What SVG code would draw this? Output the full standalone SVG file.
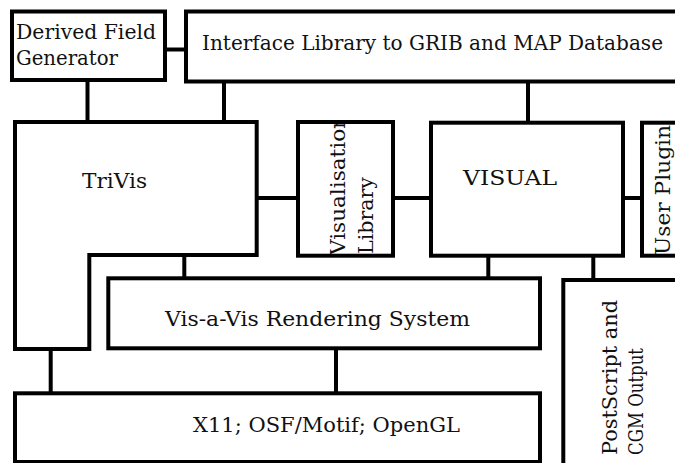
<svg xmlns="http://www.w3.org/2000/svg" width="675" height="463" viewBox="0 0 675 463">
<style>
.box{fill:#fff;stroke:#000;stroke-width:4;stroke-linejoin:miter}
.ln{stroke:#000;stroke-width:4;fill:none}
.t{font-family:"DejaVu Serif","Liberation Serif",serif;font-size:20px;fill:#111}
</style>
<defs>
<clipPath id="clipVL"><rect x="300" y="124" width="91" height="130"/></clipPath>
</defs>
<rect width="675" height="463" fill="#fff"/>
<g id="connectors">
<line class="ln" x1="165" y1="49.5" x2="186" y2="49.5"/>
<line class="ln" x1="87.5" y1="80" x2="87.5" y2="122"/>
<line class="ln" x1="224" y1="81" x2="224" y2="122"/>
<line class="ln" x1="528" y1="81" x2="528" y2="123"/>
<line class="ln" x1="257" y1="198" x2="298" y2="198"/>
<line class="ln" x1="393" y1="198" x2="431" y2="198"/>
<line class="ln" x1="623" y1="198" x2="642" y2="198"/>
<line class="ln" x1="184.3" y1="255" x2="184.3" y2="278"/>
<line class="ln" x1="488.3" y1="256" x2="488.3" y2="278"/>
<line class="ln" x1="593.3" y1="256" x2="593.3" y2="280"/>
<line class="ln" x1="336" y1="348" x2="336" y2="393"/>
<line class="ln" x1="50.7" y1="349" x2="50.7" y2="393"/>
</g>
<g id="derived">
<rect class="box" x="12" y="11.5" width="153" height="68.5"/>
<text class="t" x="16" y="39" textLength="140" lengthAdjust="spacingAndGlyphs">Derived Field</text>
<text class="t" x="16" y="65" textLength="102" lengthAdjust="spacingAndGlyphs">Generator</text>
</g>
<g id="interface">
<rect class="box" x="186" y="11.5" width="500" height="70"/>
<text class="t" x="202" y="50" textLength="461" lengthAdjust="spacingAndGlyphs">Interface Library to GRIB and MAP Database</text>
</g>
<g id="trivis">
<path class="box" d="M15,122 H256.7 V255 H89.3 V349 H15 Z"/>
<text class="t" x="82" y="188" textLength="65" lengthAdjust="spacingAndGlyphs">TriVis</text>
</g>
<g id="vislib">
<rect class="box" x="298" y="122" width="95" height="133.7"/>
<g clip-path="url(#clipVL)">
<text class="t" transform="translate(345,255) rotate(-90)" x="0" y="0" textLength="140" lengthAdjust="spacingAndGlyphs">Visualisation</text>
<text class="t" transform="translate(373,254) rotate(-90)" x="0" y="0" textLength="77" lengthAdjust="spacingAndGlyphs">Library</text>
</g>
</g>
<g id="visual">
<rect class="box" x="431" y="122.7" width="192" height="133"/>
<text class="t" x="463" y="185" textLength="94" lengthAdjust="spacingAndGlyphs">VISUAL</text>
</g>
<g id="userplugin">
<rect class="box" x="642" y="122.7" width="50" height="133"/>
<text class="t" transform="translate(670,255) rotate(-90)" x="0" y="0" textLength="130" lengthAdjust="spacingAndGlyphs">User Plugin</text>
</g>
<g id="visavis">
<rect class="box" x="108.3" y="278.3" width="431.7" height="70"/>
<text class="t" x="165" y="326" textLength="305" lengthAdjust="spacingAndGlyphs">Vis-a-Vis Rendering System</text>
</g>
<g id="x11">
<rect class="box" x="15" y="393.3" width="525" height="68.7"/>
<text class="t" x="193" y="432" textLength="267" lengthAdjust="spacingAndGlyphs">X11; OSF/Motif; OpenGL</text>
</g>
<g id="postscript">
<rect class="box" x="563.3" y="280" width="130" height="200"/>
<text class="t" transform="translate(617,455) rotate(-90)" x="0" y="0" textLength="155" lengthAdjust="spacingAndGlyphs">PostScript and</text>
<text class="t" transform="translate(643,455) rotate(-90)" x="0" y="0" textLength="107" lengthAdjust="spacingAndGlyphs">CGM Output</text>
</g>
</svg>
